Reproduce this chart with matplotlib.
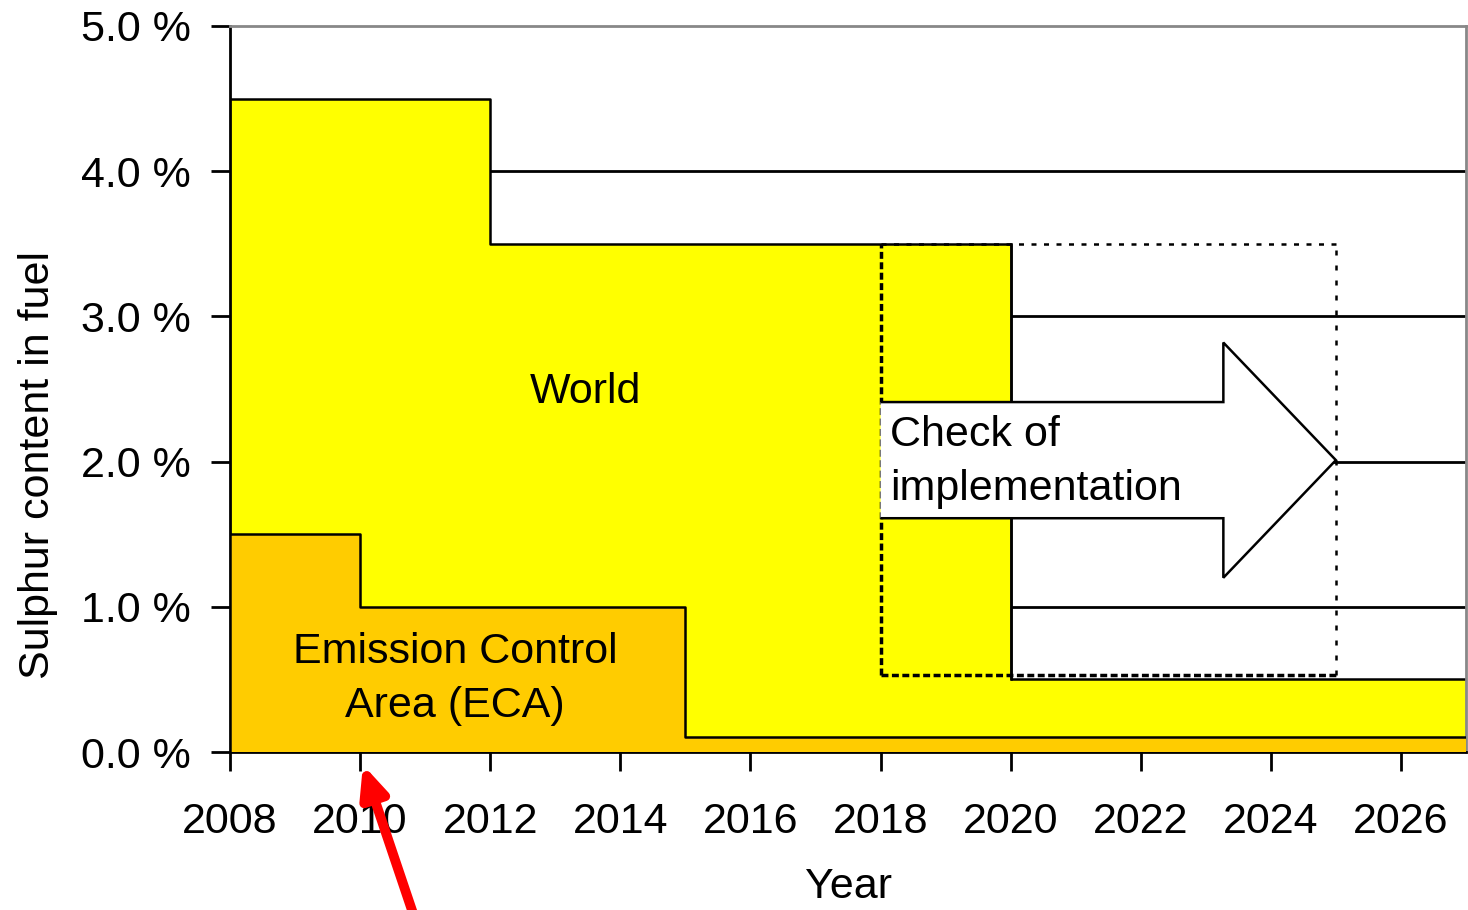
import matplotlib
matplotlib.use("Agg")
from matplotlib import pyplot as plt
from matplotlib.patches import Polygon
import numpy as np

plt.rcParams['font.family'] = ['Liberation Sans', 'DejaVu Sans']

# step limits (sulphur %) by year
world_years = [2008, 2012, 2020, 2027]
world_limit = [4.5, 3.5, 0.5, 0.5]
eca_years = [2008, 2010, 2015, 2027]
eca_limit = [1.5, 1.0, 0.1, 0.1]

# check of implementation window
check_start, check_end = 2018, 2025
check_low, check_high = 0.53, 3.5

xticks = [2008, 2010, 2012, 2014, 2016, 2018, 2020, 2022, 2024, 2026]
yticks = [0.0, 1.0, 2.0, 3.0, 4.0, 5.0]
ytick_labels = ["%.1f %%" % v for v in yticks]

fig = plt.figure(figsize=(14.68, 9.10), dpi=100)
ax = fig.add_axes([230/1468, 1 - 752/910, 1236/1468, 726/910])
fs = 31

# gridlines behind the fills
for v in yticks[1:-1]:
    ax.axhline(v, color='black', lw=2, zorder=0.5)

ax.fill_between(world_years, world_limit, step='post', color='#FFFF00', lw=0, zorder=1)
ax.step(world_years, world_limit, where='post', color='black', lw=1.8, zorder=2)
ax.plot([2020, 2020], [0.5, 3.5], color='black', lw=1.8, zorder=2)
ax.fill_between(eca_years, eca_limit, step='post', color='#FFCC00', lw=0, zorder=3)
ax.step(eca_years, eca_limit, where='post', color='black', lw=1.8, zorder=4)
ax.plot([2008, 2008], [0, 1.5], color='black', lw=1.8, zorder=4)

# dotted window
ax.plot([check_start, check_end], [check_high, check_high], color='black', lw=1.8, ls=(0, (2, 3)), zorder=5)
ax.plot([check_end, check_end], [check_low, check_high], color='black', lw=1.8, ls=(0, (2, 4)), zorder=5)
ax.plot([check_start, check_start], [check_low, check_high], color='black', lw=2.5, ls=(0, (2, 1)), zorder=5)
ax.plot([check_start, check_end], [check_low, check_low], color='black', lw=2.5, ls=(0, (2, 1)), zorder=5)

# block arrow
mid = 2.01
body, head = 0.40, 0.81
head_x = 2023.27
arrow_pts = [(check_start, mid - body), (head_x, mid - body), (head_x, mid - head),
             (check_end, mid), (head_x, mid + head), (head_x, mid + body),
             (check_start, mid + body)]
ax.add_patch(Polygon(arrow_pts, closed=False, facecolor='white', edgecolor='black', lw=1.8, zorder=6))

ax.text(2018.15, mid - 0.015, "Check of\nimplementation", fontsize=fs, ha='left', va='center', zorder=7, linespacing=1.45)
ax.text(2013.46, 2.48, "World", fontsize=fs, ha='center', va='center', zorder=7)
ax.text(2011.46, 0.50, "Emission Control\nArea (ECA)", fontsize=fs, ha='center', va='center', zorder=7, linespacing=1.45)

# red pointer below 2010
ax.annotate("", xy=(2010.03, -0.07), xytext=(2010.82, -1.12), xycoords='data', textcoords='data',
            annotation_clip=False,
            arrowprops=dict(arrowstyle='-|>,head_length=1.8,head_width=0.8', color='#FF0000', lw=7))

ax.set_xlim(2008, 2027)
ax.set_ylim(0, 5)
ax.set_xticks(xticks)
ax.set_xticklabels([str(y) for y in xticks], fontsize=fs)
ax.set_yticks(yticks)
ax.set_yticklabels(ytick_labels, fontsize=fs)
ax.tick_params(axis='both', direction='out', length=14, width=2)
ax.tick_params(axis='x', pad=22)
ax.tick_params(axis='y', pad=14)
ax.set_xlabel("Year", fontsize=fs, labelpad=18)
ax.set_ylabel("Sulphur content in fuel", fontsize=fs)
ax.yaxis.set_label_coords(-0.139, 0.395)

for s in ['top', 'right']:
    ax.spines[s].set_color('#888888')
    ax.spines[s].set_linewidth(2)
for s in ['left', 'bottom']:
    ax.spines[s].set_color('black')
    ax.spines[s].set_linewidth(2)

fig.savefig("out.png", dpi=100)
